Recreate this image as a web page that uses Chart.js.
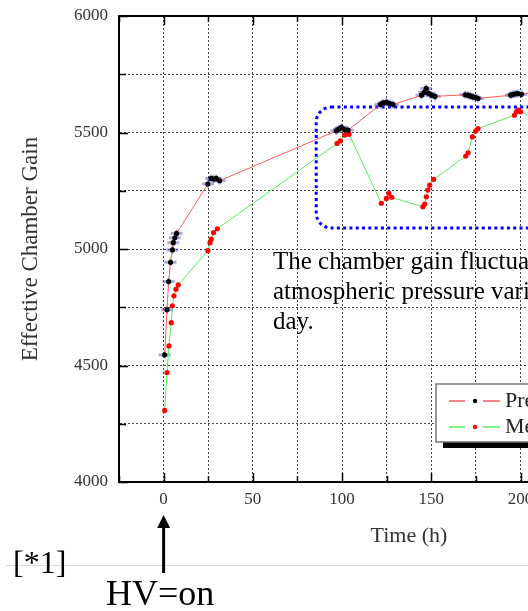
<!DOCTYPE html>
<html>
<head>
<meta charset="utf-8">
<title>Effective Chamber Gain</title>
<script src="https://cdn.jsdelivr.net/npm/chart.js@4.4.1/dist/chart.umd.min.js"></script>
<style>
html, body { margin: 0; padding: 0; background: #fff; overflow: hidden; }
#wrap { position: relative; width: 528px; height: 611px; overflow: hidden; }
#gainChart { position: absolute; left: 0; top: 0; }
.note { position: absolute; font-family: "Liberation Serif", "Times New Roman", serif; color: #000; white-space: nowrap; }
</style>
</head>
<body>
<div id="wrap">
  <canvas id="gainChart" width="720" height="611"></canvas>
  <div class="note" style="left:273px; top:246px; font-size:25px; line-height:30px;">The chamber gain fluctuates according to the<br>atmospheric pressure variation during the<br>day.</div>
  <div class="note" style="left:13px; top:546px; font-size:32px; line-height:32px;">[*1]</div>
  <div class="note" style="left:106px; top:575px; font-size:36px; line-height:36px;">HV=on</div>
</div>
<script>
// Pressure corrected gain (red line, black points)
var corrTime = [0.6, 1.9, 2.8, 3.9, 4.9, 5.4, 6.3, 7.3, 24.8, 26.7, 28.0, 29.5, 31.4,
  96.8, 98.2, 99.6, 101.5, 103.3, 121.5, 123.0, 124.8, 126.5, 128.5,
  144.5, 146.0, 147.2, 148.6, 150.2, 152.0, 169.0, 170.6, 172.0, 173.3, 174.8, 176.2,
  194.5, 195.8, 197.2, 198.6, 200.5, 224];
var corrGain = [4546, 4739, 4860, 4943, 4996, 5027, 5048, 5067, 5279, 5303, 5300, 5303, 5293,
  5507, 5515, 5522, 5512, 5510, 5620, 5627, 5630, 5625, 5620,
  5660, 5672, 5689, 5668, 5660, 5655, 5662, 5660, 5656, 5653, 5650, 5646,
  5660, 5664, 5666, 5667, 5664, 5695];

// Measured gain (green line, red points)
var measTime = [0.6, 1.9, 3.0, 4.3, 4.9, 5.8, 6.9, 8.2, 24.8, 26.0, 26.7, 28.0, 30.1,
  97.2, 99.0, 101.5, 103.9, 122.0, 124.8, 126.2, 127.8,
  145.3, 146.3, 147.2, 148.1, 149.1, 151.3, 169.3, 170.6, 173.0, 174.9, 176.2,
  196.6, 197.7, 198.6, 200.0, 221];
var measGain = [4307, 4470, 4584, 4684, 4756, 4799, 4827, 4846, 4993, 5027, 5042, 5070, 5087,
  5453, 5464, 5489, 5493, 5196, 5217, 5239, 5222,
  5181, 5193, 5224, 5253, 5274, 5299, 5399, 5413, 5481, 5506, 5517,
  5574, 5589, 5596, 5589, 5515];

// tick labels
var xLabels = [0, 50, 100, 150, 200, 250, 300];
var yLabels = [4000, 4500, 5000, 5500, 6000];

// highlighted region (blue dotted box): time range and gain range
var boxTime = [85.5, 255];
var boxGain = [5090, 5609];

var serif = "'Liberation Serif', 'Times New Roman', serif";

function toPoints(xs, ys) {
  var pts = [];
  for (var i = 0; i < xs.length; i++) pts.push({x: xs[i], y: ys[i]});
  return pts;
}

//Blue error bars behind the corrected points + dotted region box
var underlay = {
  id: 'underlay',
  beforeDatasetsDraw: function(chart) {
    var ctx = chart.ctx, xs = chart.scales.x, ys = chart.scales.y;
    var x1 = xs.getPixelForValue(boxTime[0]), x2 = xs.getPixelForValue(boxTime[1]);
    var y1 = ys.getPixelForValue(boxGain[1]), y2 = ys.getPixelForValue(boxGain[0]);
    ctx.save();
    ctx.strokeStyle = '#0000ff';
    ctx.lineWidth = 3;
    ctx.setLineDash([3, 3.3]);
    ctx.beginPath();
    ctx.roundRect(x1, y1, x2 - x1, y2 - y1, 15);
    ctx.stroke();
    ctx.setLineDash([]);
    ctx.strokeStyle = 'rgba(70,70,190,0.45)';
    chart.getDatasetMeta(0).data.forEach(function(p) {
      ctx.lineWidth = 3;
      ctx.beginPath(); ctx.moveTo(p.x - 6, p.y); ctx.lineTo(p.x + 6, p.y); ctx.stroke();
      ctx.lineWidth = 2;
      ctx.beginPath(); ctx.moveTo(p.x, p.y - 4); ctx.lineTo(p.x, p.y + 4); ctx.stroke();
    });
    ctx.restore();
  }
};

//Frame, inner ticks, legend box, HV arrow
var overlay = {
  id: 'overlay',
  afterDraw: function(chart) {
    var ctx = chart.ctx, a = chart.chartArea, xs = chart.scales.x, ys = chart.scales.y;
    ctx.save();
    ctx.strokeStyle = '#000';
    ctx.lineWidth = 2;
    ctx.strokeRect(a.left, a.top, a.right - a.left, a.bottom - a.top);
    ctx.lineWidth = 1.5;
    xs.ticks.forEach(function(t) {
      var px = Math.round(xs.getPixelForValue(t.value)) + 0.5;
      var len = xLabels.indexOf(t.value) >= 0 ? 9 : 6;
      ctx.beginPath();
      ctx.moveTo(px, a.bottom); ctx.lineTo(px, a.bottom - len);
      ctx.moveTo(px, a.top); ctx.lineTo(px, a.top + len);
      ctx.stroke();
    });
    ys.ticks.forEach(function(t) {
      var py = Math.round(ys.getPixelForValue(t.value)) + 0.5;
      var len = yLabels.indexOf(t.value) >= 0 ? 9 : 7;
      ctx.beginPath();
      ctx.moveTo(a.left, py); ctx.lineTo(a.left + len, py);
      ctx.moveTo(a.right, py); ctx.lineTo(a.right - len, py);
      ctx.stroke();
    });

    // legend
    var lx = a.left + 317, ly = a.top + 368, lw = 250, lh = 58;
    ctx.fillStyle = '#000';
    ctx.fillRect(lx + 7, ly + 6, lw, lh);
    ctx.fillStyle = '#fff';
    ctx.fillRect(lx, ly, lw, lh);
    ctx.strokeStyle = '#777';
    ctx.lineWidth = 1.5;
    ctx.strokeRect(lx, ly, lw, lh);
    ctx.font = '22px ' + serif;
    ctx.textBaseline = 'middle';
    chart.data.datasets.forEach(function(ds, i) {
      var cy = ly + 17 + i * 26;
      ctx.strokeStyle = ds.borderColor;
      ctx.lineWidth = 1.5;
      ctx.beginPath();
      ctx.moveTo(lx + 13, cy); ctx.lineTo(lx + 29, cy);
      ctx.moveTo(lx + 47, cy); ctx.lineTo(lx + 64, cy);
      ctx.stroke();
      ctx.fillStyle = ds.pointBackgroundColor;
      ctx.beginPath(); ctx.arc(lx + 39, cy, 2.2, 0, Math.PI * 2); ctx.fill();
      ctx.fillStyle = '#222';
      ctx.fillText(ds.label, lx + 69, cy);
    });

    // separator line and HV=on arrow
    ctx.strokeStyle = '#dcdcdc';
    ctx.lineWidth = 1;
    ctx.beginPath(); ctx.moveTo(6, 565.5); ctx.lineTo(chart.width, 565.5); ctx.stroke();
    var ax = xs.getPixelForValue(0);
    ctx.strokeStyle = '#000';
    ctx.lineWidth = 3;
    ctx.beginPath(); ctx.moveTo(ax, 526); ctx.lineTo(ax, 573); ctx.stroke();
    ctx.fillStyle = '#000';
    ctx.beginPath();
    ctx.moveTo(ax, 515); ctx.lineTo(ax + 6.5, 528); ctx.lineTo(ax - 6.5, 528);
    ctx.closePath(); ctx.fill();
    ctx.restore();
  }
};

var gainChart = new Chart(document.getElementById('gainChart').getContext('2d'), {
  type: 'scatter',
  data: {
    datasets: [{
      label: 'Pressure corrected',
      data: toPoints(corrTime, corrGain),
      showLine: true,
      borderColor: '#ff5a5a',
      borderWidth: 1,
      pointRadius: 2.6,
      pointBorderWidth: 0,
      pointBackgroundColor: '#000'
    }, {
      label: 'Measured',
      data: toPoints(measTime, measGain),
      showLine: true,
      borderColor: '#55ee55',
      borderWidth: 1,
      pointRadius: 2.6,
      pointBorderWidth: 0,
      pointBackgroundColor: '#ff0000'
    }]
  },
  options: {
    responsive: false,
    animation: false,
    events: [],
    layout: { padding: { left: 0, right: 21, top: 16, bottom: 0 } },
    plugins: {
      legend: { display: false },
      tooltip: { enabled: false }
    },
    scales: {
      x: {
        type: 'linear',
        min: -25,
        max: 300,
        afterFit: function(s) { s.height = 129; s.paddingLeft = 0; s.paddingRight = 0; },
        ticks: {
          stepSize: 25,
          autoSkip: false,
          maxRotation: 0,
          padding: 7,
          color: '#333',
          font: { family: serif, size: 17 },
          callback: function(v) { return xLabels.indexOf(v) >= 0 ? String(v) : ''; }
        },
        grid: { color: '#444', lineWidth: 1, drawTicks: false },
        border: { display: true, color: '#000', width: 2, dash: [2, 2] },
        title: {
          display: true,
          text: 'Time (h)',
          color: '#333',
          font: { family: serif, size: 22 },
          padding: { top: 0, bottom: 62 }
        }
      },
      y: {
        min: 4000,
        max: 6000,
        afterFit: function(s) { s.width = 119; s.paddingTop = 0; s.paddingBottom = 0; },
        ticks: {
          stepSize: 250,
          autoSkip: false,
          padding: 11,
          color: '#333',
          font: { family: serif, size: 17 },
          callback: function(v) { return yLabels.indexOf(v) >= 0 ? String(v) : ''; }
        },
        grid: { color: '#444', lineWidth: 1, drawTicks: false },
        border: { display: true, color: '#000', width: 2, dash: [2, 2] },
        title: {
          display: true,
          text: 'Effective Chamber Gain',
          color: '#333',
          font: { family: serif, size: 23 },
          padding: { top: 17, bottom: 0 }
        }
      }
    }
  },
  plugins: [underlay, overlay]
});
</script>
</body>
</html>
